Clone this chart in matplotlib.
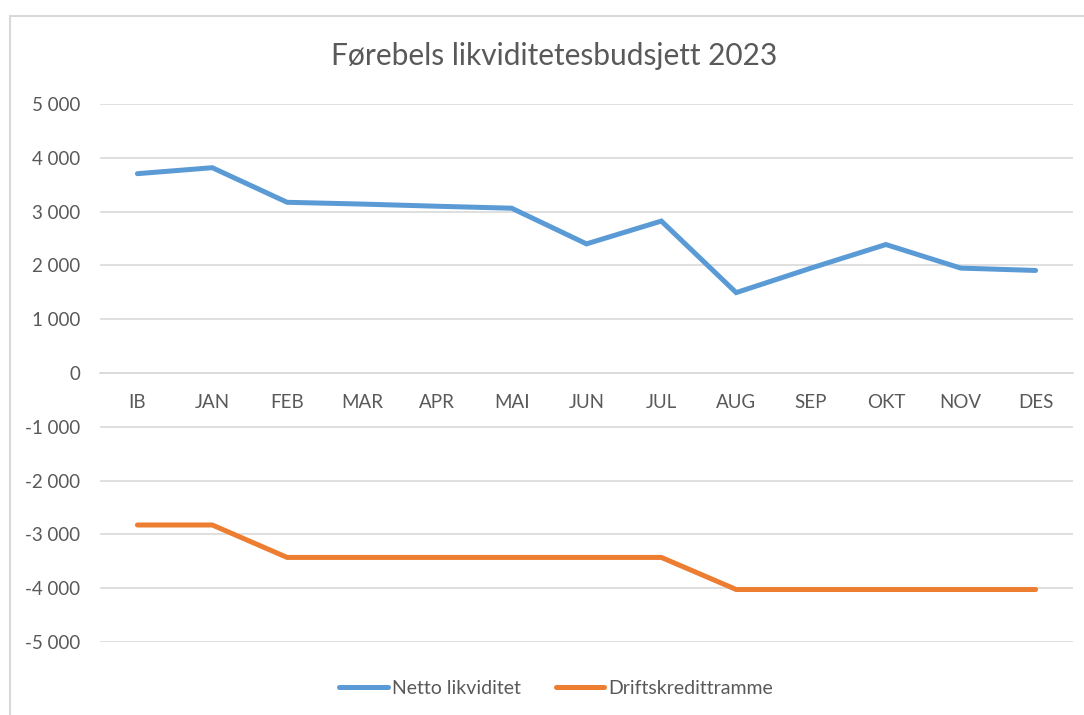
import matplotlib
matplotlib.use("Agg")
import matplotlib.pyplot as plt
from matplotlib.patches import Rectangle

categories = ["IB", "JAN", "FEB", "MAR", "APR", "MAI", "JUN", "JUL", "AUG", "SEP", "OKT", "NOV", "DES"]
netto_likviditet = [3705, 3816, 3173, 3140, 3100, 3063, 2400, 2824, 1494, 1950, 2388, 1950, 1906]
driftskredittramme = [-2825, -2825, -3428, -3428, -3428, -3428, -3428, -3428, -4024, -4024, -4024, -4024, -4024]
yticks = list(range(-5000, 5001, 1000))

plt.rcParams['font.family'] = ['Lato', 'DejaVu Sans']
TXT = '#595959'
GRID = '#D9D9D9'

fig = plt.figure(figsize=(10.84, 7.15), dpi=100)
fig.patch.set_facecolor('white')

# chart border
fig.add_artist(Rectangle((10/1084, -0.1), 1.2, 1 - 16/715 + 0.1, transform=fig.transFigure,
                         fill=False, edgecolor=GRID, linewidth=1.5))

ax = fig.add_axes([100/1084, 1 - 642/715, (1073-100)/1084, (642-104)/715])
x = list(range(len(categories)))
ax.plot(x, netto_likviditet, color='#5B9BD5', lw=3.6, solid_capstyle='round', solid_joinstyle='miter',
        label='Netto likviditet', zorder=3)
ax.plot(x, driftskredittramme, color='#ED7D31', lw=3.6, solid_capstyle='round', solid_joinstyle='miter',
        label='Driftskredittramme', zorder=3)

ax.set_xlim(-0.5, len(categories) - 0.5)
ax.set_ylim(-5000, 5000)
ax.set_yticks(yticks)
ax.set_yticklabels([f"{v:,}".replace(",", " ") for v in yticks])
ax.yaxis.grid(True, color=GRID, lw=1.2)
ax.set_axisbelow(True)
for s in ['top', 'right', 'left']:
    ax.spines[s].set_visible(False)
ax.spines['bottom'].set_position(('data', 0))
ax.spines['bottom'].set_color(GRID)
ax.spines['bottom'].set_linewidth(1.2)
ax.set_xticks(x)
ax.set_xticklabels(categories)
ax.tick_params(axis='x', length=0, pad=15, labelsize=13.5, labelcolor=TXT)
ax.tick_params(axis='y', length=0, pad=14, labelsize=13.5, labelcolor=TXT)

fig.text(554/1084, 1 - 56/715, "Førebels likviditetesbudsjett 2023", ha='center', va='center',
         fontsize=21.5, color=TXT)

leg = fig.legend(loc='center', bbox_to_anchor=(556/1084, 1 - 688/715), ncol=2, frameon=False,
                 fontsize=14, handlelength=2.5, handletextpad=0.2, columnspacing=1.8)
for t in leg.get_texts():
    t.set_color(TXT)

fig.savefig("out.png", dpi=100)
